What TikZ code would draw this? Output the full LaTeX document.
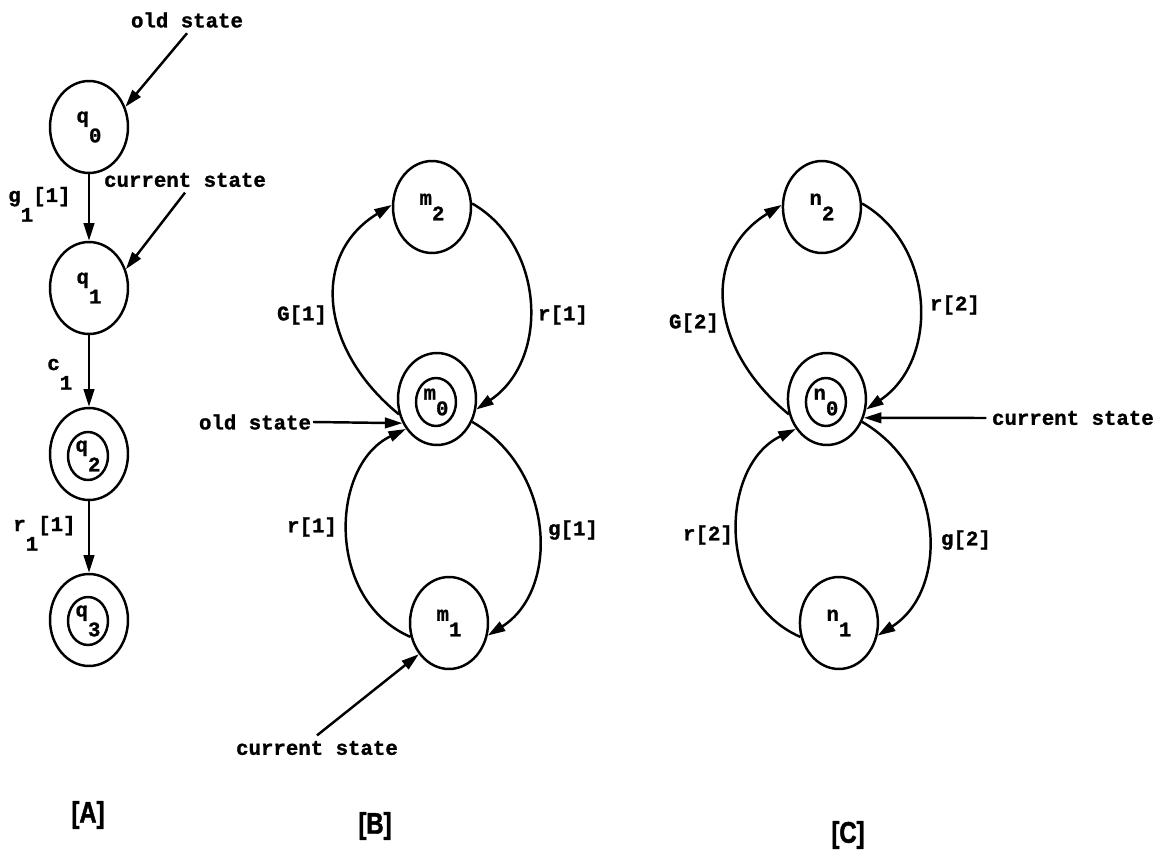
\documentclass[tikz,border=0pt]{standalone}
\usepackage{fontspec}
\setmonofont[BoldFeatures={FakeBold=1.2}]{Liberation Mono}
\newfontfamily\tagfont[FakeStretch=0.8,BoldFeatures={FakeBold=1.5}]{Liberation Sans}
\usepackage{tikz}
\usetikzlibrary{shapes.geometric}
\usetikzlibrary{arrows.meta}

\newcommand{\lowr}[2][0.95em]{\raisebox{-#1}{#2}}

\tikzset{
  stnode/.style={draw, ellipse, line width=1.4pt, minimum width=1.56cm,
    minimum height=1.84cm, inner sep=0pt,
    font=\ttfamily\bfseries\fontsize{11.8}{14}\selectfont},
  instate/.style={stnode, minimum width=0.8cm, minimum height=0.96cm},
  lab/.style={inner sep=3pt, font=\ttfamily\bfseries\fontsize{11.8}{14}\selectfont},
  trans/.style={line width=1.4pt, -{Triangle[length=10pt,width=6pt]}},
  paneltag/.style={font=\tagfont\bfseries\fontsize{17}{20}\selectfont}
}

\begin{document}
\begin{tikzpicture}[x=0.02cm, y=-0.02cm]
        \useasboundingbox (0,0) rectangle (1167,858);

        % [A]
        \node[stnode] (q0) at (89,127) {q\lowr{0}};
        \node[stnode] (q1) at (89,288) {q\lowr{1}};
        \node[stnode] (q2) at (89,454) {};
        \node[instate] (q2i) at (88,456) {q\lowr{2}};
        \node[stnode] (q3) at (89,620) {};
        \node[instate] (q3i) at (88,621) {q\lowr{3}};

        \node[lab] (oldA) at (187,20) {old state};
        \node[lab] (curA) at (185,180) {current state};
        \node[lab, inner sep=0pt, anchor=base west] (gA) at (8,202) {g\lowr{1}[1]};
        \node[lab, inner sep=0pt, anchor=base west] (cA) at (47,370) {c\lowr{1}};
        \node[lab, inner sep=0pt, anchor=base west] (rA) at (13,531) {r\lowr{1}[1]};

        \draw[trans] (oldA.south) -- (q0.29);
        \draw[trans] (curA.south) -- (q1.27);
        \draw[trans] (q0) -- (q1);
        \draw[trans] (q1) -- (q2);
        \draw[trans] (q2) -- (q3);

        % [B]
        \node[stnode] (m2) at (432,207) {m\lowr[0.75em]{2}};
        \node[stnode] (m0) at (437,399) {};
        \node[instate] (m0i) at (436,402) {m\lowr[0.75em]{0}};
        \node[stnode] (m1) at (449,623) {m\lowr[0.75em]{1}};

        \node[lab] (gB) at (302,315) {G[1]};
        \node[lab] (rtB) at (563,315) {r[1]};
        \node[lab] (rbB) at (312,527) {r[1]};
        \node[lab] (grB) at (573,530) {g[1]};
        \node[lab, inner sep=1pt] (oldB) at (255,422) {old state};
        \node[lab] (curB) at (317,748) {current state};

        \draw[trans] (m0.202) .. controls (320,350) and (310,255) .. (m2.177);
        \draw[trans] (m2.5) .. controls (545,245) and (550,360) .. (m0.345);
        \draw[trans] (m1.200) .. controls (325,600) and (330,465) .. (m0.224);
        \draw[trans] (m0.327) .. controls (555,470) and (560,590) .. (m1.342);
        \draw[trans] (oldB.east) -- (m0.215);
        \draw[trans] (curB.north) -- (m1.226);

        % [C]
        \begin{scope}[xshift=7.8cm]
            \node[stnode] (n2) at (432,207) {n\lowr[0.75em]{2}};
            \node[stnode] (n0) at (437,399) {};
            \node[instate] (n0i) at (436,402) {n\lowr[0.75em]{0}};
            \node[stnode] (n1) at (449,623) {n\lowr[0.75em]{1}};

            \node[lab] (gC) at (304,323) {G[2]};
            \node[lab] (rtC) at (565,305) {r[2]};
            \node[lab] (rbC) at (318,535) {r[2]};
            \node[lab] (grC) at (576,540) {g[2]};
            \node[lab] (curC) at (683,418) {current state};

            \draw[trans] (n0.202) .. controls (320,350) and (310,255) .. (n2.177);
            \draw[trans] (n2.5) .. controls (545,245) and (550,360) .. (n0.345);
            \draw[trans] (n1.200) .. controls (325,600) and (330,465) .. (n0.224);
            \draw[trans] (n0.327) .. controls (555,470) and (560,590) .. (n1.342);
            \draw[trans] (curC.west) -- (n0.333);
        \end{scope}

        \node[paneltag] (tA) at (88,815) {[A]};
        \node[paneltag] (tB) at (375,826) {[B]};
        \node[paneltag] (tC) at (848,835) {[C]};
    \end{tikzpicture}
\end{document}
